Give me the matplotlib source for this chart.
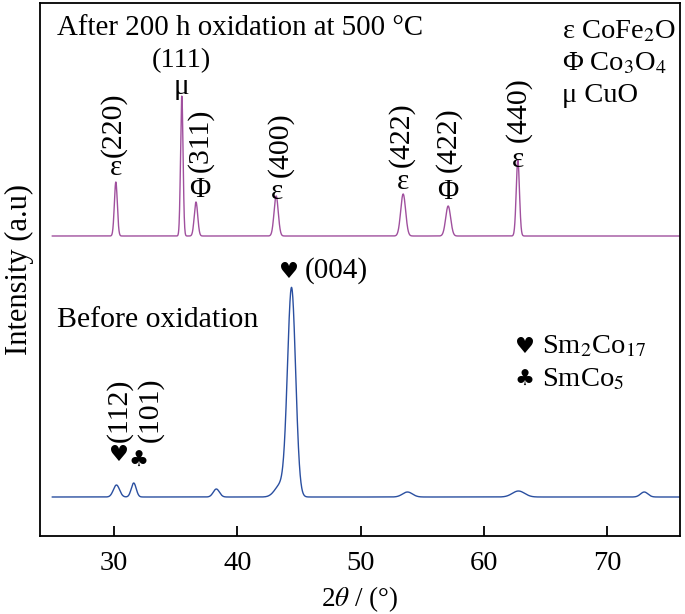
import numpy as np
import matplotlib
matplotlib.use("Agg")
import matplotlib.pyplot as plt

plt.rcParams['font.family'] = ['Liberation Serif', 'DejaVu Sans']
plt.rcParams['mathtext.fontset'] = 'stix'

# 2theta range of the scans
two_theta_start = 25.0
two_theta_end = 76.0

# after oxidation: baseline level, peak centres, heights, widths (deg)
after_base = 378
after_pos = [30.15, 35.5, 36.65, 43.15, 53.45, 57.1, 62.75]
after_height = [54, 140, 34, 40, 42, 30, 76]
after_width = [0.12, 0.10, 0.14, 0.17, 0.20, 0.20, 0.13]

# before oxidation
before_base = 117
before_pos = [30.2, 31.6, 38.3, 43.5, 44.4, 53.8, 62.8, 73.0]
before_height = [12, 14, 8, 12, 208, 5, 6, 5]
before_width = [0.25, 0.2, 0.25, 0.45, 0.33, 0.4, 0.5, 0.3]


def pattern(x, base, pos, height, width):
    y = np.full_like(x, base, dtype=float)
    for p, h, w in zip(pos, height, width):
        y += h * np.exp(-0.5 * ((x - p) / w) ** 2)
    return y


x = np.linspace(two_theta_start, two_theta_end, 4000)
y_after = pattern(x, after_base, after_pos, after_height, after_width)
y_before = pattern(x, before_base, before_pos, before_height, before_width)

fig = plt.figure(figsize=(6.85, 6.14), dpi=100)
ax = fig.add_axes([40 / 685, 78 / 614, 640 / 685, 533 / 614])

ax.plot(x, y_after, color='#A0509E', lw=1.0)
ax.plot(x, y_before, color='#2A4FA0', lw=1.0)

ax.set_xlim(24.0, 75.9)
ax.set_ylim(78, 611)
ax.set_xticks([30, 40, 50, 60, 70])
ax.set_yticks([])
ax.tick_params(axis='x', direction='in', length=7, width=1.3, labelsize=20.5, pad=11)
for s in ax.spines.values():
    s.set_linewidth(1.3)

ax.set_xlabel(r'2$\theta$ / (°)', fontsize=19.5, labelpad=6)
ax.set_ylabel('Intensity (a.u)', fontsize=22, labelpad=4)

fs = 21
hs = 16
# titles
ax.text(25.4, 614 - 28, 'After 200 h oxidation at 500 °C', fontsize=20.8, va='center', ha='left')
ax.text(25.4, 614 - 320, 'Before oxidation', fontsize=21.5, va='center', ha='left')

# phase legend, top right
ax.text(66.3, 614 - 32, r'ε CoFe$_2$O', fontsize=20.5, va='center', ha='left')
ax.text(66.3, 614 - 64, r'Φ Co$_3$O$_4$', fontsize=20.5, va='center', ha='left')
ax.text(66.3, 614 - 95, r'μ CuO', fontsize=20.5, va='center', ha='left')

ax.text(63.3, 614 - 347, '♥', fontsize=hs, family=['DejaVu Sans'], va='center', ha='center')
ax.text(64.7, 614 - 347, r'Sm$_2$Co$_{17}$', fontsize=20.5, va='center', ha='left')
ax.text(63.3, 614 - 380, '♣', fontsize=hs, family=['DejaVu Sans'], va='center', ha='center')
ax.text(64.7, 614 - 380, r'SmCo$_5$', fontsize=20.5, va='center', ha='left')

# peak markers (symbol, x, y) and rotated hkl labels (text, x, y)
symbols = [('ε', 30.15, 168), ('μ', 35.5, 87), ('Φ', 36.95, 190), ('ε', 43.2, 192),
           ('ε', 53.45, 182), ('Φ', 57.1, 192), ('ε', 62.8, 160)]
for s, sx, sy in symbols:
    ax.text(sx, 614 - sy, s, fontsize=fs, va='center', ha='center')

ax.text(35.5, 614 - 61, '(111)', fontsize=20.5, va='center', ha='center')
hkl = [('(220)', 29.95, 125), ('(311)', 37.0, 140), ('(400)', 43.5, 145),
       ('(422)', 53.3, 135), ('(422)', 57.1, 140), ('(440)', 62.75, 110),
       ('(112)', 30.4, 410), ('(101)', 32.95, 410)]
for t, tx, ty in hkl:
    ax.text(tx, 614 - ty, t, fontsize=21.5, rotation=90, va='center', ha='center')

ax.text(30.4, 614 - 455, '♥', fontsize=hs, family=['DejaVu Sans'], va='center', ha='center')
ax.text(32.0, 614 - 461, '♣', fontsize=hs, family=['DejaVu Sans'], va='center', ha='center')
ax.text(44.2, 614 - 272, '♥', fontsize=hs, family=['DejaVu Sans'], va='center', ha='center')
ax.text(45.5, 614 - 271, '(004)', fontsize=fs, va='center', ha='left')

fig.savefig('out.png', dpi=100)
